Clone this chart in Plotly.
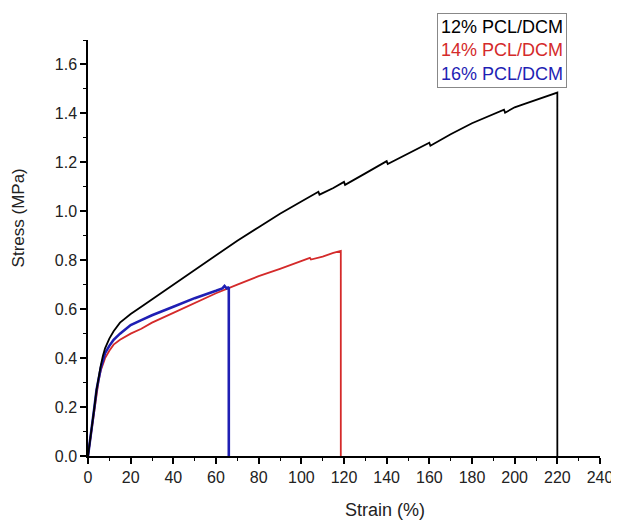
import plotly.graph_objects as go

# Tensile curves (strain in %, stress in MPa)
strain_12 = [0, 1, 2, 3, 4, 5, 6, 7, 8, 10, 12, 15, 20, 25, 30, 40, 50, 60, 70, 80, 90,
             100, 105, 108, 108.5, 115, 120, 120.5, 130, 137, 140, 140.5, 150, 160, 160.5,
             170, 180, 190, 195, 195.5, 200, 205, 210, 215, 220, 220]
stress_12 = [0, 0.06, 0.13, 0.20, 0.27, 0.33, 0.37, 0.41, 0.44, 0.48, 0.51, 0.545, 0.58, 0.61,
             0.64, 0.70, 0.76, 0.82, 0.88, 0.935, 0.99, 1.04, 1.065, 1.08, 1.068, 1.095, 1.12,
             1.108, 1.155, 1.19, 1.205, 1.193, 1.235, 1.28, 1.268, 1.315, 1.36, 1.395, 1.415,
             1.403, 1.425, 1.44, 1.455, 1.47, 1.485, 0]

strain_14 = [0, 1, 2, 3, 4, 5, 6, 7, 8, 10, 12, 15, 20, 25, 30, 40, 50, 60, 70, 80, 90,
             100, 104, 104.5, 110, 115, 118.5, 118.5]
stress_14 = [0, 0.06, 0.13, 0.20, 0.26, 0.31, 0.35, 0.38, 0.40, 0.43, 0.455, 0.475, 0.50,
             0.52, 0.545, 0.585, 0.625, 0.665, 0.70, 0.735, 0.765, 0.795, 0.81, 0.803, 0.815,
             0.83, 0.838, 0]

strain_16 = [0, 1, 2, 3, 4, 5, 6, 7, 8, 10, 12, 15, 20, 25, 30, 40, 50, 60, 63, 64, 65, 66, 66]
stress_16 = [0, 0.06, 0.13, 0.20, 0.27, 0.32, 0.36, 0.39, 0.42, 0.45, 0.475, 0.50, 0.535,
             0.555, 0.575, 0.61, 0.645, 0.675, 0.685, 0.695, 0.685, 0.69, 0]

labels = ["12% PCL/DCM", "14% PCL/DCM", "16% PCL/DCM"]
colors = ["#000000", "#d42a2a", "#1f1fb4"]

FONT = "Liberation Sans, Arial, sans-serif"
TEXT_COLOR = "#222222"

fig = go.Figure()

fig.add_trace(go.Scatter(x=strain_14, y=stress_14, mode="lines", name=labels[1],
                         line=dict(color=colors[1], width=1.8)))
fig.add_trace(go.Scatter(x=strain_16, y=stress_16, mode="lines", name=labels[2],
                         line=dict(color=colors[2], width=2.6)))
fig.add_trace(go.Scatter(x=strain_12, y=stress_12, mode="lines", name=labels[0],
                         line=dict(color=colors[0], width=1.8)))

# legend drawn as a boxed block of coloured text (no line samples in the original)
legend_text = "<br>".join(
    f"<span style='color:{c}'>{t}</span>" for t, c in zip(labels, colors)
)
fig.add_annotation(
    text=legend_text, xref="paper", yref="paper", x=0.9355, y=1.065,
    xanchor="right", yanchor="top", align="left", showarrow=False,
    font=dict(family=FONT, size=18),
    bordercolor="#888888", borderwidth=1, borderpad=3, bgcolor="white",
)

# axis titles sit off-centre in the original, so place them as annotations
fig.add_annotation(
    text="Strain (%)", xref="paper", yref="paper", x=0.58, y=-0.13,
    xanchor="center", yanchor="middle", showarrow=False,
    font=dict(family=FONT, size=18, color=TEXT_COLOR),
)
fig.add_annotation(
    text="Stress (MPa)", xref="paper", yref="paper", x=-0.136, y=0.572,
    xanchor="center", yanchor="middle", showarrow=False, textangle=-90,
    font=dict(family=FONT, size=17, color=TEXT_COLOR),
)

axis_common = dict(
    showgrid=False, zeroline=False, showline=True, linecolor="black", linewidth=1.5,
    ticks="outside", ticklen=6, tickwidth=1.5, tickcolor="black",
    tickfont=dict(family=FONT, size=16, color=TEXT_COLOR),
    automargin=False,
)

fig.update_xaxes(
    range=[0, 240], dtick=20,
    minor=dict(ticks="outside", ticklen=3, tickwidth=1.2, tickcolor="black", dtick=10),
    **axis_common,
)
fig.update_yaxes(
    range=[0, 1.7], dtick=0.2, tickformat=".1f",
    minor=dict(ticks="outside", ticklen=3, tickwidth=1.2, tickcolor="black", dtick=0.1),
    **axis_common,
)

# page body has an 8px default margin, so the figure is a little smaller than the window
fig.update_layout(
    width=611, height=512,
    margin=dict(l=80, r=19, t=32, b=64),
    plot_bgcolor="white", paper_bgcolor="white",
    showlegend=False,
)

fig.write_html("out.html")
